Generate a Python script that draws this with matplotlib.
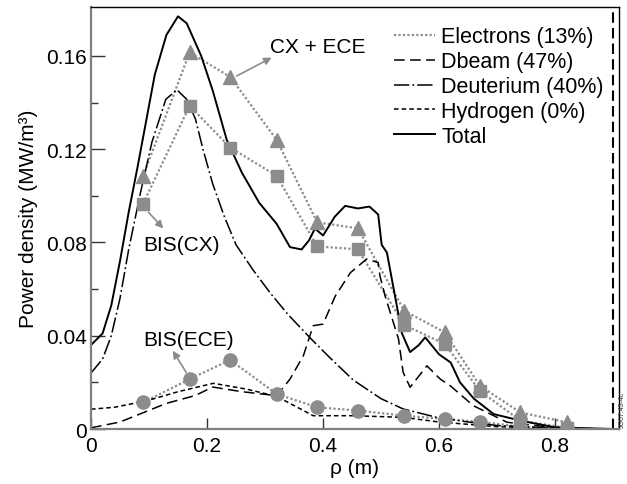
import matplotlib
matplotlib.use('Agg')
import matplotlib.pyplot as plt
from matplotlib.ticker import FixedLocator, FuncFormatter

plt.rcParams['font.family'] = ['Liberation Sans', 'DejaVu Sans']

# total power density
rho_total = [0.0, 0.02, 0.035, 0.05, 0.065, 0.08, 0.095, 0.11, 0.13, 0.15, 0.165, 0.19, 0.21, 0.234,
             0.26, 0.29, 0.32, 0.343, 0.363, 0.376, 0.386, 0.40, 0.42, 0.438, 0.46, 0.48, 0.495, 0.501,
             0.51, 0.524, 0.536, 0.55, 0.565, 0.576, 0.60, 0.62, 0.636, 0.66, 0.694, 0.74, 0.80, 0.9]
p_total = [0.036, 0.041, 0.053, 0.072, 0.093, 0.112, 0.132, 0.152, 0.169, 0.177, 0.174, 0.160, 0.145, 0.124,
           0.110, 0.097, 0.088, 0.078, 0.077, 0.081, 0.086, 0.083, 0.091, 0.0957, 0.0946, 0.0954, 0.092, 0.079,
           0.0757, 0.057, 0.041, 0.033, 0.036, 0.0393, 0.032, 0.0285, 0.020, 0.013, 0.0064, 0.0036, 0.0007, 0.0]

# deuterium
rho_deut = [0.0, 0.02, 0.035, 0.05, 0.065, 0.085, 0.105, 0.129, 0.148, 0.165, 0.18, 0.193, 0.21, 0.23,
            0.25, 0.28, 0.31, 0.34, 0.378, 0.41, 0.452, 0.5, 0.538, 0.596, 0.65, 0.7, 0.8, 0.9]
p_deut = [0.024, 0.030, 0.040, 0.056, 0.077, 0.101, 0.123, 0.1414, 0.1455, 0.1414, 0.133, 0.12, 0.105, 0.091,
          0.079, 0.068, 0.058, 0.049, 0.039, 0.031, 0.021, 0.013, 0.0086, 0.005, 0.003, 0.0015, 0.0003, 0.0]

# deuterium beam
rho_dbeam = [0.0, 0.05, 0.09, 0.13, 0.179, 0.21, 0.26, 0.32, 0.343, 0.366, 0.383, 0.40, 0.421, 0.447,
             0.475, 0.495, 0.498, 0.507, 0.53, 0.538, 0.55, 0.579, 0.602, 0.619, 0.659, 0.717, 0.8, 0.9]
p_dbeam = [0.0005, 0.003, 0.007, 0.011, 0.0143, 0.018, 0.016, 0.0143, 0.0214, 0.0314, 0.0443, 0.045, 0.057, 0.067,
           0.0729, 0.0714, 0.0657, 0.057, 0.0386, 0.0243, 0.0179, 0.0271, 0.0214, 0.0186, 0.010, 0.0029, 0.0005, 0.0]

# hydrogen
rho_hyd = [0.0, 0.04, 0.096, 0.15, 0.211, 0.268, 0.32, 0.383, 0.452, 0.538, 0.6, 0.7, 0.8, 0.9]
p_hyd = [0.0085, 0.0093, 0.0121, 0.016, 0.0196, 0.0171, 0.014, 0.0057, 0.0057, 0.005, 0.003, 0.001, 0.0003, 0.0]

# measured points
rho_pts = [0.09, 0.17, 0.24, 0.32, 0.39, 0.46, 0.54, 0.61, 0.67, 0.74, 0.82]
cx_ece = [0.1086, 0.1615, 0.151, 0.124, 0.0886, 0.0861, 0.0507, 0.0414, 0.0186, 0.0071, 0.0029]
bis_cx = [0.0967, 0.1386, 0.1207, 0.1086, 0.0783, 0.0771, 0.0446, 0.0364, 0.0164, 0.0036, 0.0005]
bis_ece = [0.0114, 0.0214, 0.0296, 0.0150, 0.0093, 0.0079, 0.0057, 0.0043, 0.0031, 0.0010, 0.0005]

labels = ['Electrons (13%)', 'Dbeam (47%)', 'Deuterium (40%)', 'Hydrogen (0%)', 'Total']

grey = '#8c8c8c'
fig = plt.figure(figsize=(6.27, 4.85), dpi=100)
ax = fig.add_axes([0.1451, 0.1134, 0.8421, 0.8701])

# dotted connecting lines (electrons)
l_el, = ax.plot(rho_pts, cx_ece, ls=(0, (1, 1)), color=grey, lw=1.6)
ax.plot(rho_pts, bis_cx, ls=(0, (1, 1)), color=grey, lw=1.6)
ax.plot(rho_pts, bis_ece, ls=(0, (1, 1)), color=grey, lw=1.6)

l_db, = ax.plot(rho_dbeam, p_dbeam, color='k', lw=1.1, ls=(0, (7, 3.5)))
l_de, = ax.plot(rho_deut, p_deut, color='k', lw=1.1, ls=(0, (10, 2, 1.2, 2)))
l_hy, = ax.plot(rho_hyd, p_hyd, color='k', lw=1.1, ls=(0, (3, 2)))
l_to, = ax.plot(rho_total, p_total, color='k', lw=1.4)

ax.plot(rho_pts, cx_ece, ls='none', marker='^', ms=10, color=grey, zorder=5)
ax.plot(rho_pts, bis_cx, ls='none', marker='s', ms=8, color=grey, zorder=5)
ax.plot(rho_pts, bis_ece, ls='none', marker='o', ms=9.5, color=grey, zorder=5)

ax.axvline(0.9, color='k', lw=1.5, ls=(0, (5, 2.5)))

arrow = dict(arrowstyle='-|>', color=grey, lw=1.2, mutation_scale=11, shrinkA=0, shrinkB=0)
ax.annotate('', xy=(0.3115, 0.1593), xytext=(0.251, 0.1514), arrowprops=arrow)
ax.annotate('', xy=(0.1247, 0.086), xytext=(0.099, 0.093), arrowprops=arrow)
ax.annotate('', xy=(0.141, 0.0336), xytext=(0.164, 0.0243), arrowprops=arrow)
ax.text(0.3086, 0.1642, 'CX + ECE', fontsize=15, va='center', ha='left')
ax.text(0.0897, 0.0793, 'BIS(CX)', fontsize=15, va='center', ha='left')
ax.text(0.0897, 0.0386, 'BIS(ECE)', fontsize=15, va='center', ha='left')

ax.legend([l_el, l_db, l_de, l_hy, l_to], labels, loc='upper right', frameon=False, fontsize=15.5,
          handlelength=1.9, handletextpad=0.3, labelspacing=0.18, borderaxespad=0.3,
          bbox_to_anchor=(1.0, 0.99))

ax.set_xlim(0, 0.91)
ax.set_ylim(0, 0.181)
ax.xaxis.set_major_locator(FixedLocator([0, 0.2, 0.4, 0.6, 0.8]))
ax.yaxis.set_major_locator(FixedLocator([0, 0.04, 0.08, 0.12, 0.16]))
ax.yaxis.set_minor_locator(FixedLocator([0.02, 0.06, 0.10, 0.14]))
fmt = FuncFormatter(lambda v, p: '0' if v == 0 else f'{v:g}')
ax.xaxis.set_major_formatter(fmt)
ax.yaxis.set_major_formatter(fmt)
ax.tick_params(axis='y', which='major', direction='in', length=10, width=1, pad=3, labelsize=15, color='#333333')
ax.tick_params(axis='y', which='minor', direction='in', length=5, width=1, color='#333333')
ax.tick_params(axis='x', which='major', direction='in', length=8, width=1, pad=5, labelsize=15, color='#333333')

for s in ['left', 'bottom']:
    ax.spines[s].set_color('#808080')
    ax.spines[s].set_linewidth(1.6)
for s in ['top', 'right']:
    ax.spines[s].set_color('k')
    ax.spines[s].set_linewidth(1.0)

ax.set_xlabel('ρ (m)', fontsize=15, labelpad=2)
ax.set_ylabel('Power density (MW/m³)', fontsize=15, labelpad=6)

fig.text(0.9865, (485 - 428) / 485, 'JG07.45-4c', rotation=90, fontsize=5, va='bottom', ha='left', color='#333333')

fig.savefig('out.png', dpi=100)
